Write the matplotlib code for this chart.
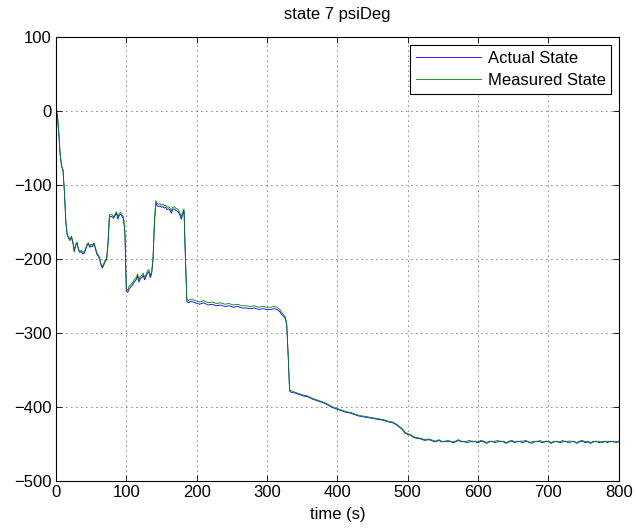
import matplotlib
matplotlib.use("Agg")
import matplotlib.pyplot as plt

plt.rcParams['font.family'] = ['Liberation Sans', 'DejaVu Sans']

# Heading angle over time (degrees)
time_s = [
    0, 2, 4, 6, 8, 10, 12, 14, 16, 18, 20, 22, 24, 26, 28, 30, 32, 34, 36, 38,
    40, 42, 44, 46, 48, 50, 52, 54, 56, 58, 60, 62, 64, 66, 68, 70, 72, 74, 76, 78,
    80, 82, 84, 86, 88, 90, 92, 94, 96, 98, 100, 102, 104, 106, 108, 110, 112, 114, 116, 118,
    120, 122, 124, 126, 128, 130, 132, 134, 136, 138, 140, 142, 144, 146, 148, 150, 152, 154, 156, 158,
    160, 162, 164, 166, 168, 170, 172, 174, 176, 178, 180, 182, 184, 186, 188, 192, 198, 204, 210, 216,
    222, 228, 234, 240, 246, 252, 258, 264, 270, 276, 282, 288, 294, 300, 306, 310, 314, 318, 321, 324,
    326, 328, 330, 332, 334, 340, 346, 352, 358, 364, 370, 376, 382, 388, 394, 400, 406, 412, 418, 424,
    430, 436, 442, 448, 454, 460, 466, 472, 478, 484, 488, 492, 496, 500, 504, 508, 512, 518, 524, 530,
    536, 540, 544, 548, 552, 556, 560, 564, 568, 572, 576, 580, 584, 588, 592, 596, 600, 604, 608, 612,
    616, 620, 624, 628, 632, 636, 640, 644, 648, 652, 656, 660, 664, 668, 672, 676, 680, 684, 688, 692,
    696, 700, 704, 708, 712, 716, 720, 724, 728, 732, 736, 740, 744, 748, 752, 756, 760, 764, 768, 772,
    776, 780, 784, 788, 792, 796, 800,
]

actual_deg = [
    2, -5, -30, -60, -75, -80, -110, -150, -168, -172, -175, -170, -178, -190, -182, -178, -188, -191, -190, -193,
    -192, -188, -182, -179, -184, -182, -183, -179, -186, -193, -196, -200, -208, -212, -208, -203, -201, -180, -143, -142,
    -143, -145, -141, -138, -146, -141, -139, -143, -145, -165, -243, -245, -240, -238, -236, -233, -230, -228, -223, -231,
    -226, -225, -222, -228, -224, -219, -217, -225, -220, -200, -150, -124, -128, -129, -128, -130, -129, -131, -130, -133,
    -132, -134, -138, -133, -132, -134, -135, -136, -140, -146, -140, -135, -200, -257, -259, -257, -259, -261, -259, -262,
    -261, -263, -262, -264, -263, -265, -264, -266, -266, -267, -266, -268, -267, -268, -268, -267, -268, -271, -275, -278,
    -280, -290, -330, -378, -380, -381, -383, -385, -386, -389, -391, -393, -395, -398, -401, -403, -405, -407, -408, -410,
    -412, -413, -414, -415, -416, -417, -418, -420, -421, -424, -427, -430, -435, -437, -438, -441, -442, -443, -445, -444,
    -446, -447, -445, -447, -446, -447, -446, -448, -447, -445, -447, -446, -448, -447, -446, -447, -448, -446, -447, -449,
    -447, -446, -448, -447, -446, -447, -449, -447, -446, -448, -446, -447, -448, -446, -447, -449, -447, -446, -447, -448,
    -446, -447, -449, -447, -446, -448, -447, -446, -448, -447, -446, -449, -447, -446, -448, -447, -449, -447, -446, -448,
    -447, -446, -448, -446, -447, -447, -446,
]

measured_deg = [
    3, -4, -28, -58, -74, -79, -108, -148, -167, -170, -173, -169, -176, -188, -180, -177, -186, -190, -188, -191,
    -190, -186, -180, -178, -182, -180, -181, -178, -184, -191, -194, -198, -206, -210, -206, -201, -199, -177, -140, -140,
    -140, -143, -139, -136, -143, -138, -137, -140, -143, -162, -240, -242, -237, -235, -233, -230, -227, -225, -220, -228,
    -223, -222, -219, -225, -221, -216, -214, -222, -217, -197, -147, -121, -125, -126, -125, -127, -126, -128, -127, -130,
    -129, -131, -135, -130, -129, -131, -132, -133, -137, -143, -137, -132, -197, -254, -256, -254, -256, -258, -256, -259,
    -258, -260, -259, -261, -260, -262, -261, -263, -263, -264, -263, -265, -264, -265, -265, -264, -265, -268, -272, -276,
    -278, -288, -328, -376, -378, -380, -382, -384, -385, -388, -390, -392, -394, -397, -400, -402, -404, -406, -407, -409,
    -411, -412, -413, -414, -415, -416, -417, -419, -420, -423, -426, -429, -434, -436, -437, -440, -441, -442, -444, -443,
    -445, -446, -444, -446, -447, -445, -446, -447, -446, -444, -446, -447, -446, -445, -447, -446, -447, -445, -446, -448,
    -446, -447, -446, -445, -447, -446, -448, -446, -445, -447, -447, -446, -446, -445, -448, -447, -446, -447, -445, -447,
    -447, -446, -448, -446, -447, -447, -445, -447, -446, -446, -447, -448, -446, -445, -447, -446, -448, -446, -447, -446,
    -448, -447, -446, -447, -446, -448, -447,
]

x_ticks = [0, 100, 200, 300, 400, 500, 600, 700, 800]
y_ticks = [-500, -400, -300, -200, -100, 0, 100]

fig = plt.figure(figsize=(6.36, 5.31), dpi=100)
ax = fig.add_axes([0.088, 0.094, 0.885, 0.836])

ax.plot(time_s, actual_deg, color=(0, 0, 1), linewidth=0.6, label='Actual State')
ax.plot(time_s, measured_deg, color=(0, 0.5, 0), linewidth=0.6, label='Measured State')

ax.set_xlim(0, 800)
ax.set_ylim(-500, 100)
ax.set_xticks(x_ticks)
ax.set_yticks(y_ticks)
ax.set_yticklabels([str(v).replace('-', '\u2212') for v in y_ticks])
ax.tick_params(direction='in', top=True, right=True, labelsize=12, length=4, width=0.6, pad=3)
ax.grid(True, linestyle=(0, (1, 5)), color='black', linewidth=0.6)
for s in ax.spines.values():
    s.set_linewidth(0.8)

ax.set_title('state 7 psiDeg', fontsize=12, pad=13)
ax.set_xlabel('time (s)', fontsize=12, labelpad=5)

leg = ax.legend(loc='upper right', fontsize=12, fancybox=False, framealpha=1,
                edgecolor='black', borderaxespad=0.45, handlelength=3.9,
                borderpad=0.35, labelspacing=0.45, handletextpad=0.4)
leg.get_frame().set_linewidth(0.8)

fig.savefig('out.png', dpi=100)
